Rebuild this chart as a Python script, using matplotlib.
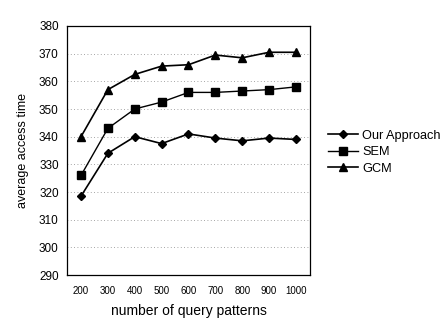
import matplotlib.pyplot as plt

plt.rcParams['font.family'] = ['Liberation Sans', 'DejaVu Sans']

patterns = [200, 300, 400, 500, 600, 700, 800, 900, 1000]
our_approach = [318.5, 334, 340, 337.5, 341, 339.5, 338.5, 339.5, 339]
sem = [326, 343, 350, 352.5, 356, 356, 356.5, 357, 358]
gcm = [340, 357, 362.5, 365.5, 366, 369.5, 368.5, 370.5, 370.5]

fig = plt.figure(figsize=(4.44, 3.29), dpi=100)
ax = fig.add_axes([0.151, 0.164, 0.547, 0.757])

ax.plot(patterns, our_approach, color='black', marker='D', markersize=4.5, linewidth=1.2, label='Our Approach')
ax.plot(patterns, sem, color='black', marker='s', markersize=5.5, linewidth=1.0, label='SEM')
ax.plot(patterns, gcm, color='black', marker='^', markersize=6, linewidth=1.2, label='GCM')

ax.set_xlim(148, 1052)
ax.set_ylim(290, 380)
ax.set_xticks(patterns)
ax.set_yticks(range(290, 381, 10))
ax.tick_params(axis='x', labelsize=7, length=0, pad=8)
ax.tick_params(axis='y', labelsize=8.5, length=0, pad=6)
ax.yaxis.grid(True, linestyle=(0, (1, 3)), color='#888888', linewidth=0.6)
for s in ax.spines.values():
    s.set_linewidth(0.9)

ax.set_xlabel('number of query patterns', fontsize=10, labelpad=6)
ax.set_ylabel('average access time', fontsize=9, labelpad=7)

fig.legend(loc='upper left', bbox_to_anchor=(0.712, 0.64), frameon=False,
           fontsize=9.2, handlelength=2.4, handletextpad=0.3, labelspacing=0.35)

fig.savefig('out.png', dpi=100)
